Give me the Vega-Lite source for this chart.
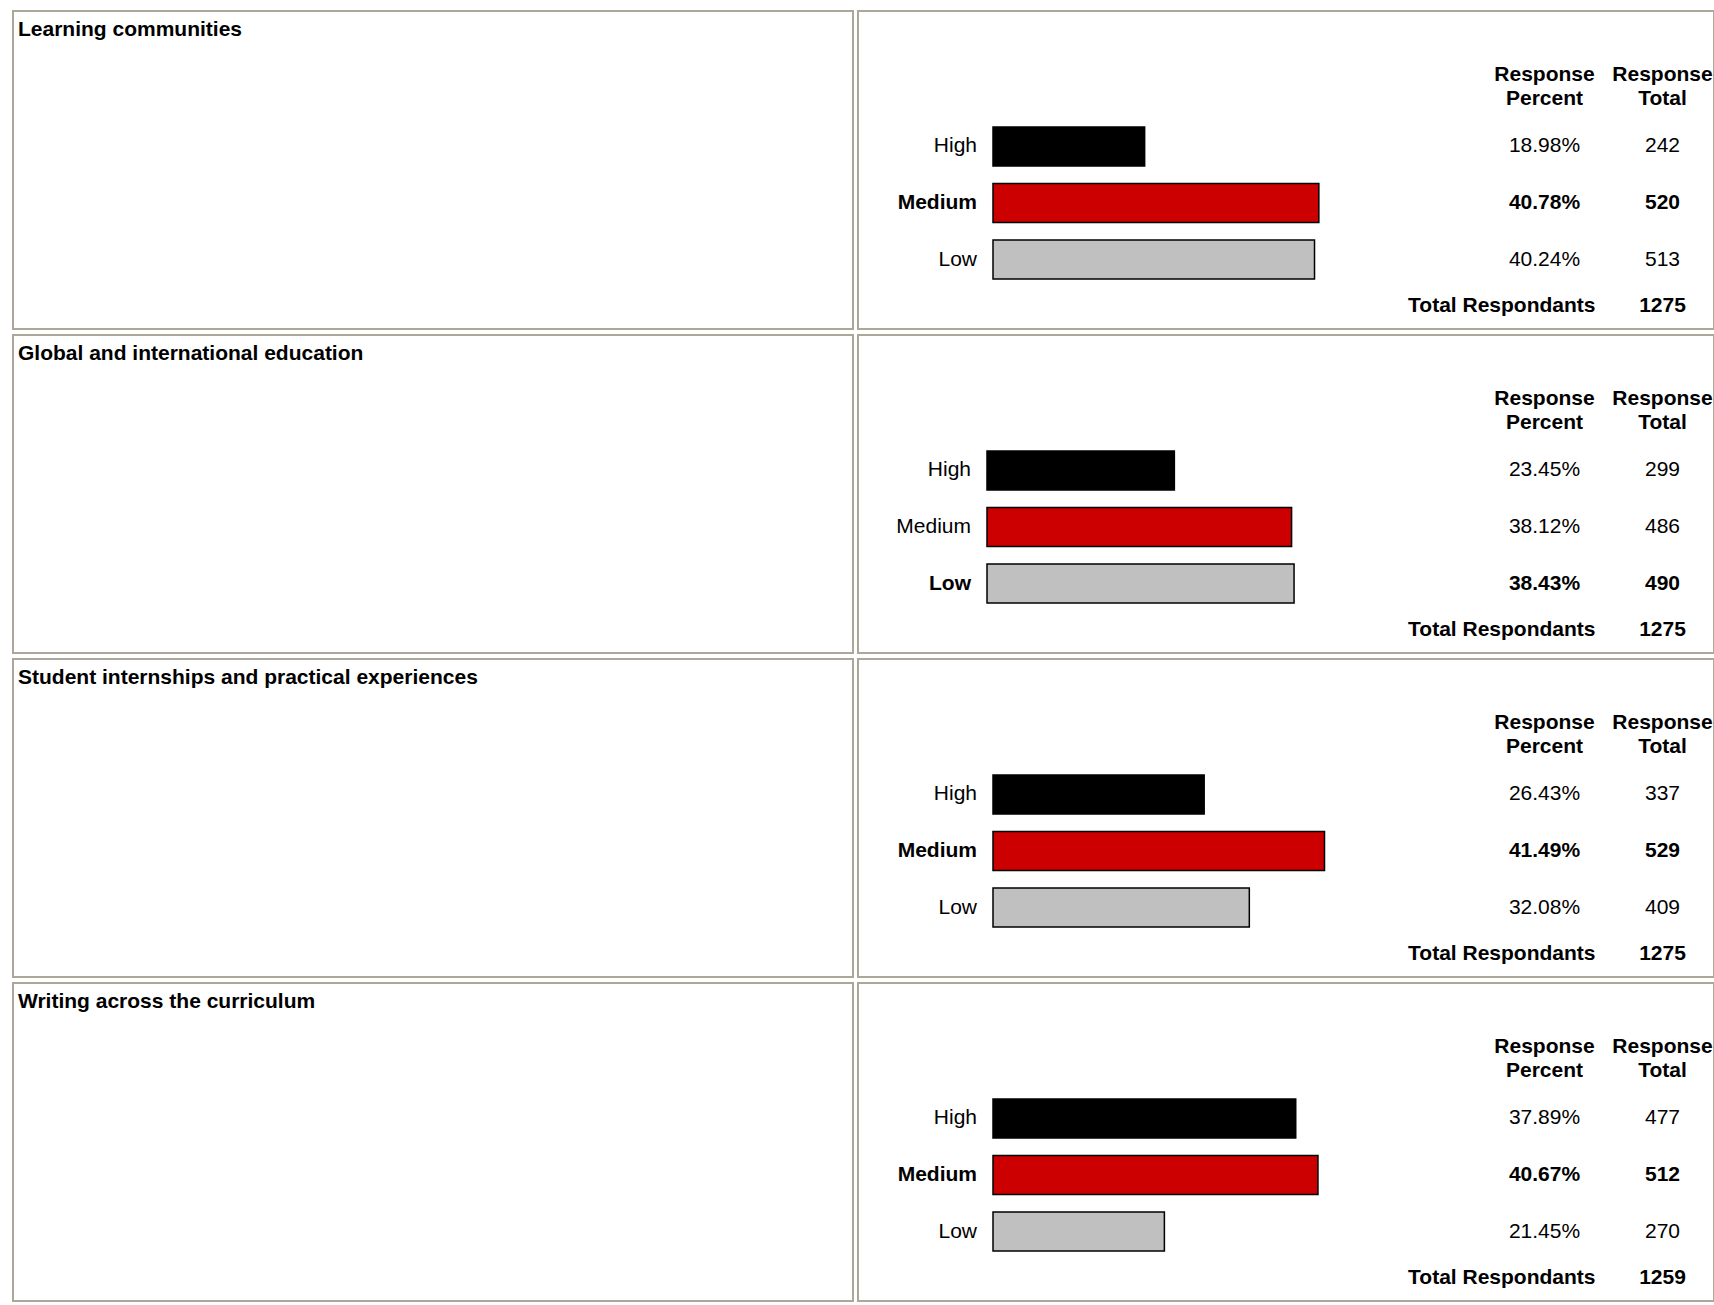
{
  "$schema": "https://vega.github.io/schema/vega-lite/v6.json",
  "background": "white",
  "padding": {"left": 12, "top": 10, "right": 0, "bottom": 0},
  "datasets": {
    "responses": [
      {"q": "Learning communities", "level": "High", "pct": 0.1898, "count": 242, "top": false},
      {"q": "Learning communities", "level": "Medium", "pct": 0.4078, "count": 520, "top": true},
      {"q": "Learning communities", "level": "Low", "pct": 0.4024, "count": 513, "top": false},
      {"q": "Global and international education", "level": "High", "pct": 0.2345, "count": 299, "top": false},
      {"q": "Global and international education", "level": "Medium", "pct": 0.3812, "count": 486, "top": false},
      {"q": "Global and international education", "level": "Low", "pct": 0.3843, "count": 490, "top": true},
      {"q": "Student internships and practical experiences", "level": "High", "pct": 0.2643, "count": 337, "top": false},
      {"q": "Student internships and practical experiences", "level": "Medium", "pct": 0.4149, "count": 529, "top": true},
      {"q": "Student internships and practical experiences", "level": "Low", "pct": 0.3208, "count": 409, "top": false},
      {"q": "Writing across the curriculum", "level": "High", "pct": 0.3789, "count": 477, "top": false},
      {"q": "Writing across the curriculum", "level": "Medium", "pct": 0.4067, "count": 512, "top": true},
      {"q": "Writing across the curriculum", "level": "Low", "pct": 0.2145, "count": 270, "top": false}
    ],
    "totals": [
      {"q": "Learning communities", "total": 1275},
      {"q": "Global and international education", "total": 1275},
      {"q": "Student internships and practical experiences", "total": 1275},
      {"q": "Writing across the curriculum", "total": 1259}
    ],
    "columns": [
      {"col": "Response Percent"},
      {"col": "Response Total"}
    ]
  },
  "vconcat": [
    {
      "hconcat": [
        {
          "width": 840, "height": 318,
          "title": {"text": "Learning communities"},
          "data": {"name": "totals"},
          "transform": [{"filter": "datum.q === 'Learning communities'"}],
          "mark": {"type": "point", "opacity": 0, "size": 0},
          "encoding": {"x": {"field": "total", "type": "quantitative", "axis": null, "scale": {"zero": false}}}
        },
        {
          "width": 856, "height": 318,
          "data": {"name": "responses"},
          "transform": [{"filter": "datum.q === 'Learning communities'"}],
          "encoding": {
            "y": {"field": "level", "type": "nominal", "scale": {"type": "band", "domain": ["hdr", "High", "Medium", "Low", "Total"], "range": [59.5, 324.5], "paddingInner": 0.31, "paddingOuter": 0}, "axis": null}
          },
          "layer": [
            {
              "layer": [
                {
                  "mark": {"type": "bar", "stroke": "black", "strokeWidth": 1.5},
                  "encoding": {
                    "x": {"field": "pct", "type": "quantitative", "scale": {"domain": [0, 1], "range": [135, 934]}, "axis": null},
                    "color": {"field": "level", "type": "nominal", "scale": {"domain": ["High", "Medium", "Low"], "range": ["#000000", "#cc0000", "#c0c0c0"]}, "legend": null}
                  }
                },
                {
                  "mark": {"type": "text", "align": "right", "dx": -16, "fontWeight": {"expr": "datum.top ? 'bold' : 'normal'"}},
                  "encoding": {"x": {"datum": 0, "type": "quantitative"}, "text": {"field": "level"}}
                }
              ]
            },
            {
              "layer": [
                {
                  "data": {"name": "columns"},
                  "mark": {"type": "text", "fontWeight": "bold", "lineBreak": " ", "lineHeight": 24, "dy": -15},
                  "encoding": {
                    "x": {"field": "col", "type": "nominal", "scale": {"type": "point", "domain": ["Response Percent", "Response Total"], "range": [686.5, 804.5], "padding": 0}, "axis": null},
                    "y": {"datum": "hdr", "type": "nominal"},
                    "text": {"field": "col"}
                  }
                },
                {
                  "mark": {"type": "text", "fontWeight": {"expr": "datum.top ? 'bold' : 'normal'"}},
                  "encoding": {"x": {"datum": "Response Percent", "type": "nominal"}, "text": {"field": "pct", "type": "quantitative", "format": ".2%"}}
                },
                {
                  "mark": {"type": "text", "fontWeight": {"expr": "datum.top ? 'bold' : 'normal'"}},
                  "encoding": {"x": {"datum": "Response Total", "type": "nominal"}, "text": {"field": "count", "type": "quantitative"}}
                },
                {
                  "data": {"name": "totals"},
                  "transform": [{"filter": "datum.q === 'Learning communities'"}],
                  "mark": {"type": "text", "fontWeight": "bold", "align": "right", "dx": 51, "dy": -10},
                  "encoding": {"x": {"datum": "Response Percent", "type": "nominal"}, "y": {"datum": "Total", "type": "nominal"}, "text": {"value": "Total Respondants"}}
                },
                {
                  "data": {"name": "totals"},
                  "transform": [{"filter": "datum.q === 'Learning communities'"}],
                  "mark": {"type": "text", "fontWeight": "bold", "dy": -10},
                  "encoding": {"x": {"datum": "Response Total", "type": "nominal"}, "y": {"datum": "Total", "type": "nominal"}, "text": {"field": "total", "type": "quantitative"}}
                }
              ]
            }
          ],
          "resolve": {"scale": {"x": "independent"}}
        }
      ]
    },
    {
      "hconcat": [
        {
          "width": 840, "height": 318,
          "title": {"text": "Global and international education"},
          "data": {"name": "totals"},
          "transform": [{"filter": "datum.q === 'Global and international education'"}],
          "mark": {"type": "point", "opacity": 0, "size": 0},
          "encoding": {"x": {"field": "total", "type": "quantitative", "axis": null, "scale": {"zero": false}}}
        },
        {
          "width": 856, "height": 318,
          "data": {"name": "responses"},
          "transform": [{"filter": "datum.q === 'Global and international education'"}],
          "encoding": {
            "y": {"field": "level", "type": "nominal", "scale": {"type": "band", "domain": ["hdr", "High", "Medium", "Low", "Total"], "range": [59.5, 324.5], "paddingInner": 0.31, "paddingOuter": 0}, "axis": null}
          },
          "layer": [
            {
              "layer": [
                {
                  "mark": {"type": "bar", "stroke": "black", "strokeWidth": 1.5},
                  "encoding": {
                    "x": {"field": "pct", "type": "quantitative", "scale": {"domain": [0, 1], "range": [129, 928]}, "axis": null},
                    "color": {"field": "level", "type": "nominal", "scale": {"domain": ["High", "Medium", "Low"], "range": ["#000000", "#cc0000", "#c0c0c0"]}, "legend": null}
                  }
                },
                {
                  "mark": {"type": "text", "align": "right", "dx": -16, "fontWeight": {"expr": "datum.top ? 'bold' : 'normal'"}},
                  "encoding": {"x": {"datum": 0, "type": "quantitative"}, "text": {"field": "level"}}
                }
              ]
            },
            {
              "layer": [
                {
                  "data": {"name": "columns"},
                  "mark": {"type": "text", "fontWeight": "bold", "lineBreak": " ", "lineHeight": 24, "dy": -15},
                  "encoding": {
                    "x": {"field": "col", "type": "nominal", "scale": {"type": "point", "domain": ["Response Percent", "Response Total"], "range": [686.5, 804.5], "padding": 0}, "axis": null},
                    "y": {"datum": "hdr", "type": "nominal"},
                    "text": {"field": "col"}
                  }
                },
                {
                  "mark": {"type": "text", "fontWeight": {"expr": "datum.top ? 'bold' : 'normal'"}},
                  "encoding": {"x": {"datum": "Response Percent", "type": "nominal"}, "text": {"field": "pct", "type": "quantitative", "format": ".2%"}}
                },
                {
                  "mark": {"type": "text", "fontWeight": {"expr": "datum.top ? 'bold' : 'normal'"}},
                  "encoding": {"x": {"datum": "Response Total", "type": "nominal"}, "text": {"field": "count", "type": "quantitative"}}
                },
                {
                  "data": {"name": "totals"},
                  "transform": [{"filter": "datum.q === 'Global and international education'"}],
                  "mark": {"type": "text", "fontWeight": "bold", "align": "right", "dx": 51, "dy": -10},
                  "encoding": {"x": {"datum": "Response Percent", "type": "nominal"}, "y": {"datum": "Total", "type": "nominal"}, "text": {"value": "Total Respondants"}}
                },
                {
                  "data": {"name": "totals"},
                  "transform": [{"filter": "datum.q === 'Global and international education'"}],
                  "mark": {"type": "text", "fontWeight": "bold", "dy": -10},
                  "encoding": {"x": {"datum": "Response Total", "type": "nominal"}, "y": {"datum": "Total", "type": "nominal"}, "text": {"field": "total", "type": "quantitative"}}
                }
              ]
            }
          ],
          "resolve": {"scale": {"x": "independent"}}
        }
      ]
    },
    {
      "hconcat": [
        {
          "width": 840, "height": 318,
          "title": {"text": "Student internships and practical experiences"},
          "data": {"name": "totals"},
          "transform": [{"filter": "datum.q === 'Student internships and practical experiences'"}],
          "mark": {"type": "point", "opacity": 0, "size": 0},
          "encoding": {"x": {"field": "total", "type": "quantitative", "axis": null, "scale": {"zero": false}}}
        },
        {
          "width": 856, "height": 318,
          "data": {"name": "responses"},
          "transform": [{"filter": "datum.q === 'Student internships and practical experiences'"}],
          "encoding": {
            "y": {"field": "level", "type": "nominal", "scale": {"type": "band", "domain": ["hdr", "High", "Medium", "Low", "Total"], "range": [59.5, 324.5], "paddingInner": 0.31, "paddingOuter": 0}, "axis": null}
          },
          "layer": [
            {
              "layer": [
                {
                  "mark": {"type": "bar", "stroke": "black", "strokeWidth": 1.5},
                  "encoding": {
                    "x": {"field": "pct", "type": "quantitative", "scale": {"domain": [0, 1], "range": [135, 934]}, "axis": null},
                    "color": {"field": "level", "type": "nominal", "scale": {"domain": ["High", "Medium", "Low"], "range": ["#000000", "#cc0000", "#c0c0c0"]}, "legend": null}
                  }
                },
                {
                  "mark": {"type": "text", "align": "right", "dx": -16, "fontWeight": {"expr": "datum.top ? 'bold' : 'normal'"}},
                  "encoding": {"x": {"datum": 0, "type": "quantitative"}, "text": {"field": "level"}}
                }
              ]
            },
            {
              "layer": [
                {
                  "data": {"name": "columns"},
                  "mark": {"type": "text", "fontWeight": "bold", "lineBreak": " ", "lineHeight": 24, "dy": -15},
                  "encoding": {
                    "x": {"field": "col", "type": "nominal", "scale": {"type": "point", "domain": ["Response Percent", "Response Total"], "range": [686.5, 804.5], "padding": 0}, "axis": null},
                    "y": {"datum": "hdr", "type": "nominal"},
                    "text": {"field": "col"}
                  }
                },
                {
                  "mark": {"type": "text", "fontWeight": {"expr": "datum.top ? 'bold' : 'normal'"}},
                  "encoding": {"x": {"datum": "Response Percent", "type": "nominal"}, "text": {"field": "pct", "type": "quantitative", "format": ".2%"}}
                },
                {
                  "mark": {"type": "text", "fontWeight": {"expr": "datum.top ? 'bold' : 'normal'"}},
                  "encoding": {"x": {"datum": "Response Total", "type": "nominal"}, "text": {"field": "count", "type": "quantitative"}}
                },
                {
                  "data": {"name": "totals"},
                  "transform": [{"filter": "datum.q === 'Student internships and practical experiences'"}],
                  "mark": {"type": "text", "fontWeight": "bold", "align": "right", "dx": 51, "dy": -10},
                  "encoding": {"x": {"datum": "Response Percent", "type": "nominal"}, "y": {"datum": "Total", "type": "nominal"}, "text": {"value": "Total Respondants"}}
                },
                {
                  "data": {"name": "totals"},
                  "transform": [{"filter": "datum.q === 'Student internships and practical experiences'"}],
                  "mark": {"type": "text", "fontWeight": "bold", "dy": -10},
                  "encoding": {"x": {"datum": "Response Total", "type": "nominal"}, "y": {"datum": "Total", "type": "nominal"}, "text": {"field": "total", "type": "quantitative"}}
                }
              ]
            }
          ],
          "resolve": {"scale": {"x": "independent"}}
        }
      ]
    },
    {
      "hconcat": [
        {
          "width": 840, "height": 318,
          "title": {"text": "Writing across the curriculum"},
          "data": {"name": "totals"},
          "transform": [{"filter": "datum.q === 'Writing across the curriculum'"}],
          "mark": {"type": "point", "opacity": 0, "size": 0},
          "encoding": {"x": {"field": "total", "type": "quantitative", "axis": null, "scale": {"zero": false}}}
        },
        {
          "width": 856, "height": 318,
          "data": {"name": "responses"},
          "transform": [{"filter": "datum.q === 'Writing across the curriculum'"}],
          "encoding": {
            "y": {"field": "level", "type": "nominal", "scale": {"type": "band", "domain": ["hdr", "High", "Medium", "Low", "Total"], "range": [59.5, 324.5], "paddingInner": 0.31, "paddingOuter": 0}, "axis": null}
          },
          "layer": [
            {
              "layer": [
                {
                  "mark": {"type": "bar", "stroke": "black", "strokeWidth": 1.5},
                  "encoding": {
                    "x": {"field": "pct", "type": "quantitative", "scale": {"domain": [0, 1], "range": [135, 934]}, "axis": null},
                    "color": {"field": "level", "type": "nominal", "scale": {"domain": ["High", "Medium", "Low"], "range": ["#000000", "#cc0000", "#c0c0c0"]}, "legend": null}
                  }
                },
                {
                  "mark": {"type": "text", "align": "right", "dx": -16, "fontWeight": {"expr": "datum.top ? 'bold' : 'normal'"}},
                  "encoding": {"x": {"datum": 0, "type": "quantitative"}, "text": {"field": "level"}}
                }
              ]
            },
            {
              "layer": [
                {
                  "data": {"name": "columns"},
                  "mark": {"type": "text", "fontWeight": "bold", "lineBreak": " ", "lineHeight": 24, "dy": -15},
                  "encoding": {
                    "x": {"field": "col", "type": "nominal", "scale": {"type": "point", "domain": ["Response Percent", "Response Total"], "range": [686.5, 804.5], "padding": 0}, "axis": null},
                    "y": {"datum": "hdr", "type": "nominal"},
                    "text": {"field": "col"}
                  }
                },
                {
                  "mark": {"type": "text", "fontWeight": {"expr": "datum.top ? 'bold' : 'normal'"}},
                  "encoding": {"x": {"datum": "Response Percent", "type": "nominal"}, "text": {"field": "pct", "type": "quantitative", "format": ".2%"}}
                },
                {
                  "mark": {"type": "text", "fontWeight": {"expr": "datum.top ? 'bold' : 'normal'"}},
                  "encoding": {"x": {"datum": "Response Total", "type": "nominal"}, "text": {"field": "count", "type": "quantitative"}}
                },
                {
                  "data": {"name": "totals"},
                  "transform": [{"filter": "datum.q === 'Writing across the curriculum'"}],
                  "mark": {"type": "text", "fontWeight": "bold", "align": "right", "dx": 51, "dy": -10},
                  "encoding": {"x": {"datum": "Response Percent", "type": "nominal"}, "y": {"datum": "Total", "type": "nominal"}, "text": {"value": "Total Respondants"}}
                },
                {
                  "data": {"name": "totals"},
                  "transform": [{"filter": "datum.q === 'Writing across the curriculum'"}],
                  "mark": {"type": "text", "fontWeight": "bold", "dy": -10},
                  "encoding": {"x": {"datum": "Response Total", "type": "nominal"}, "y": {"datum": "Total", "type": "nominal"}, "text": {"field": "total", "type": "quantitative"}}
                }
              ]
            }
          ],
          "resolve": {"scale": {"x": "independent"}}
        }
      ]
    }
  ],
  "spacing": 4,
  "config": {
    "concat": {"spacing": 3},
    "view": {"stroke": "#aca899", "strokeWidth": 2, "fill": "white"},
    "text": {"font": "Liberation Sans", "fontSize": 21, "color": "black", "baseline": "middle"},
    "title": {"anchor": "start", "frame": "group", "font": "Liberation Sans", "fontSize": 21, "fontWeight": "bold", "color": "black", "offset": -29, "dx": 5, "baseline": "top"}
  }
}
